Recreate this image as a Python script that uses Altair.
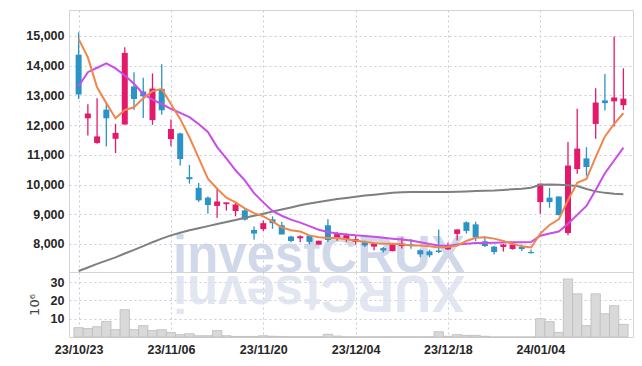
import altair as alt
import pandas as pd

# ---- data ----
idx = list(range(60))
open_ = [14370, 12230, 11400, 12520, 11540, 12020, 13300, 13130, 12170, 13220,
         11530, 11720, 10250, 9890, 9560, 9280, 9340, 9110, 9130, 8470,
         8500, 8830, 8630, 8250, 8190, 8280, 7980, 8630, 8210, 8140,
         8070, 8060, 7910, 7860, 7760, 7930, 7990, 7790, 7750, 7780,
         7820, 8340, 8730, 8660, 8090, 7910, 7900, 7830, 7900, 7730,
         9410, 9560, 9600, 8370, 10520, 10880, 12040, 12830, 12800, 12670]
high = [15120, 12700, 12900, 12770, 12040, 14620, 13780, 13590, 13740, 14050,
        12190, 11740, 10660, 10050, 9600, 9890, 9400, 9400, 9200, 8590,
        8790, 8930, 8740, 8280, 8290, 8290, 8110, 8830, 8400, 8360,
        8290, 8120, 8030, 7900, 8020, 8220, 8170, 7810, 7810, 8490,
        8040, 8490, 8760, 8750, 8260, 7930, 8000, 8010, 7980, 7810,
        10030, 9880, 9600, 11430, 12550, 11260, 13240, 13720, 14980, 13910]
low = [12880, 11650, 11370, 11280, 11060, 12020, 12510, 12240, 12010, 12350,
       11290, 10640, 10030, 9410, 9020, 8880, 9130, 8930, 8790, 8140,
       8440, 8510, 8320, 8060, 8060, 7990, 7980, 8070, 8110, 8070,
       7980, 7900, 7790, 7710, 7750, 7850, 7840, 7550, 7550, 7700,
       7800, 8120, 8350, 8100, 7900, 7650, 7750, 7810, 7760, 7680,
       9020, 9220, 8970, 8290, 10360, 10300, 11540, 12490, 11950, 12510]
close = [13030, 12390, 11620, 12230, 11740, 14430, 12880, 12970, 13230, 12500,
         11870, 10860, 10180, 9470, 9310, 9430, 9400, 9330, 8820, 8350,
         8700, 8700, 8320, 8100, 8260, 8070, 8110, 8130, 8360, 8300,
         8170, 7950, 8020, 7780, 7990, 8010, 7930, 7650, 7620, 7730,
         7960, 8490, 8440, 8220, 7930, 7730, 7980, 7980, 7830, 7690,
         10030, 9410, 8970, 10640, 11210, 10590, 12760, 12740, 12930, 12890]
volume = [5.1, 4.6, 5.6, 8.5, 4.0, 14.9, 4.0, 6.2, 3.5, 4.0,
          2.5, 1.3, 1.8, 0.7, 0.7, 3.5, 0.7, 0.3, 0.3, 0.3,
          0.7, 0.4, 0.3, 0.1, 0.1, 0.1, 0.1, 1.5, 0.5, 0.1,
          0.1, 0.1, 0.1, 0.1, 0.1, 0.1, 0.1, 0.1, 0.1, 2.9,
          0.4, 1.3, 0.9, 0.9, 0.4, 0.0, 0.0, 0.0, 0.0, 0.0,
          10.0, 8.4, 2.5, 31.7, 23.6, 6.2, 23.6, 12.7, 17.1, 6.9]
ma_short = [14900, 14280, 13270, 12740, 12230, 12510, 12600, 12900, 13140, 13220,
            12710, 12210, 11590, 10900, 10200, 9860, 9560, 9400, 9200, 9040,
            8930, 8760, 8560, 8460, 8420, 8290, 8230, 8200, 8200, 8160,
            8120, 8070, 8030, 8010, 8010, 7990, 7950, 7950, 7920, 7880,
            7900, 7950, 8100, 8210, 8230, 8180, 8100, 8010, 7920, 7880,
            8350, 8640, 8830, 9470, 10060, 10190, 10920, 11620, 12040, 12400]
ma_mid = [13310, 13780, 13930, 14080, 13910, 13670, 13390, 13050, 12860, 12710,
          12550, 12410, 12270, 12040, 11770, 11260, 10880, 10480, 10140, 9710,
          9400, 9110, 8950, 8820, 8720, 8600, 8480, 8400, 8350, 8320,
          8290, 8270, 8240, 8210, 8180, 8150, 8120, 8060, 8000, 7950,
          7930, 7980, 8010, 8030, 8035, 8040, 8050, 8060, 8060, 8065,
          8280, 8350, 8420, 8680, 8980, 9280, 9820, 10380, 10810, 11240]
ma_long = [7090, 7210, 7330, 7440, 7550, 7680, 7800, 7930, 8060, 8180,
           8290, 8380, 8460, 8530, 8600, 8670, 8740, 8810, 8880, 8950,
           9020, 9090, 9160, 9230, 9300, 9360, 9410, 9460, 9510, 9550,
           9590, 9630, 9660, 9690, 9720, 9740, 9750, 9750, 9750, 9750,
           9750, 9760, 9770, 9780, 9790, 9800, 9820, 9840, 9860, 9890,
           9990, 10000, 9990, 9980, 9950, 9850, 9770, 9720, 9690, 9670]
price_ticks = [8000, 9000, 10000, 11000, 12000, 13000, 14000, 15000]
vol_ticks = [10, 20, 30]
tick_pos = [0, 10, 20, 30, 40, 50]
tick_labels = ["23/10/23", "23/11/06", "23/11/20", "23/12/04", "23/12/18", "24/01/04"]

df = pd.DataFrame({"i": idx, "open": open_, "high": high, "low": low,
                   "close": close, "vol": volume,
                   "ma_s": ma_short, "ma_m": ma_mid, "ma_l": ma_long})
df["dir"] = ["up" if c >= o else "down" for o, c in zip(open_, close)]

W = 564
PH = 262
VH = 65
STEP = W / 60.0

UP = "#e3196b"
DOWN = "#2b93c6"
GRID = "#c9cbdc"
LABEL_FONT = "Liberation Sans"
LABEL_SIZE = 12.5

xs = alt.Scale(domain=[-0.5, 59.5], nice=False, zero=False)
ys = alt.Scale(domain=[7057, 15874], nice=False, zero=False)
col = alt.Color("dir:N", scale=alt.Scale(domain=["up", "down"], range=[UP, DOWN]), legend=None)

x_grid_axis = alt.Axis(values=tick_pos, grid=True, labels=False, ticks=False,
                       domain=False, title=None, gridDash=[2, 3], gridColor=GRID)
y_axis = alt.Axis(values=price_ticks, format=",.0f", grid=True, ticks=False, domain=False,
                  title=None, gridDash=[2, 3], gridColor=GRID, labelFont=LABEL_FONT,
                  labelFontWeight="bold", labelFontSize=LABEL_SIZE, labelColor="#262626",
                  labelPadding=5)

base = alt.Chart(df)

watermark = alt.Chart(pd.DataFrame({"t": ["investCRUX"]})).mark_text(
    font="Liberation Sans", fontWeight="bold", fontSize=51, color="#cad2e6",
    align="center", baseline="alphabetic", opacity=0.85
).encode(text="t:N", x=alt.value(250), y=alt.value(262))

wick = base.mark_rule(strokeWidth=1.3).encode(
    x=alt.X("i:Q", scale=xs, axis=x_grid_axis),
    y=alt.Y("low:Q", scale=ys, axis=y_axis),
    y2="high:Q", color=col)

body = base.mark_bar(width=6).encode(
    x=alt.X("i:Q", scale=xs, axis=x_grid_axis),
    y=alt.Y("open:Q", scale=ys, axis=y_axis),
    y2="close:Q", color=col)

def ma_line(field, color, width=2):
    return base.mark_line(color=color, strokeWidth=width).encode(
        x=alt.X("i:Q", scale=xs, axis=x_grid_axis),
        y=alt.Y(field + ":Q", scale=ys, axis=y_axis))

price = alt.layer(
    watermark, wick, body,
    ma_line("ma_l", "#7f7f7f", 2),
    ma_line("ma_m", "#c94de6", 2),
    ma_line("ma_s", "#ef874d", 2),
).properties(width=W, height=PH)

label_expr = "[" + ",".join("'" + t + "'" for t in tick_labels) + "][datum.value/10]"

reflect = alt.Chart(pd.DataFrame({"t": ["XURCtsevni"]})).mark_text(
    font="Liberation Sans", fontWeight="bold", fontSize=51, color="#dbe0ee",
    align="center", baseline="alphabetic", angle=180, opacity=0.8
).encode(text="t:N", x=alt.value(250), y=alt.value(4))

vol_bars = base.mark_bar(width=STEP, fill="#d9d9d9", stroke="#bdbdbd", strokeWidth=0.8).encode(
    x=alt.X("i:Q", scale=xs,
            axis=alt.Axis(values=tick_pos, labelExpr=label_expr, grid=True, ticks=False,
                          domain=False, title=None, gridDash=[2, 3], gridColor=GRID,
                          labelFont=LABEL_FONT, labelFontWeight="bold", labelFontSize=LABEL_SIZE,
                          labelColor="#262626", labelPadding=6, labelFlush=False)),
    y=alt.Y("vol:Q", scale=alt.Scale(domain=[0, 35.5], nice=False),
            axis=alt.Axis(values=vol_ticks, grid=True, ticks=False, domain=False,
                          title="10⁶", titleFont="DejaVu Sans", titleFontWeight="normal",
                          titleFontSize=13, titleColor="#444", titlePadding=9,
                          gridDash=[2, 3], gridColor=GRID, labelFont=LABEL_FONT,
                          labelFontWeight="bold", labelFontSize=LABEL_SIZE, labelColor="#262626",
                          labelPadding=5)))

vol = alt.layer(reflect, vol_bars).properties(width=W, height=VH)

chart = alt.vconcat(price, vol, spacing=0, bounds="flush").properties(
    padding={"left": 17, "top": 1, "right": 0, "bottom": 0}
).configure_view(stroke="#d4d4d4", strokeWidth=1).configure_concat(spacing=0)

chart.save("out.html", embed_options={"renderer": "svg", "actions": False})
